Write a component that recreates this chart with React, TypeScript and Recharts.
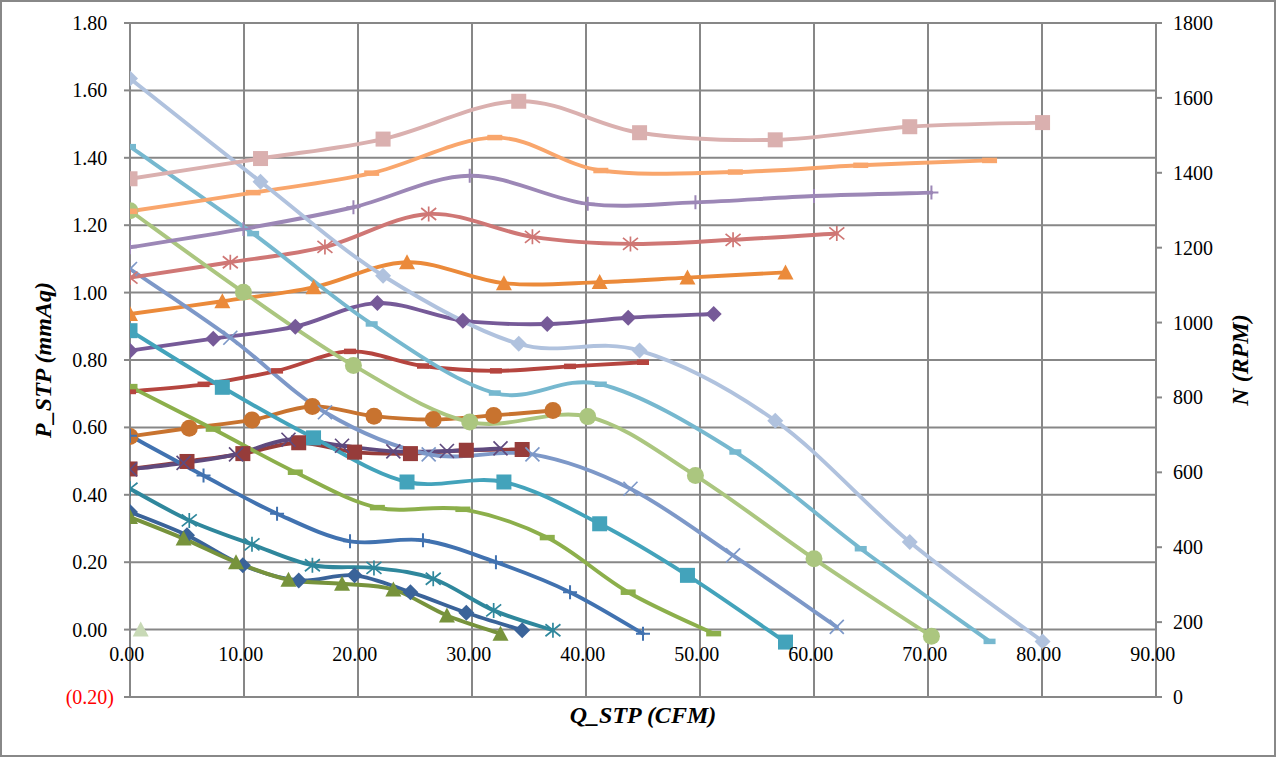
import React from 'react';
import { LineChart, Line, XAxis, YAxis, CartesianGrid } from 'recharts';

// ---------- axis ticks ----------
const qTicks = [0, 10, 20, 30, 40, 50, 60, 70, 80, 90];
const pTicks = [-0.2, 0, 0.2, 0.4, 0.6, 0.8, 1.0, 1.2, 1.4, 1.6, 1.8];
const nTicks = [0, 200, 400, 600, 800, 1000, 1200, 1400, 1600, 1800];

// ---------- data: Q_STP (CFM), P_STP (mmAq), N (RPM) ----------
const q1 = [0, 5.0, 9.9, 14.8, 19.7, 24.6, 29.5, 34.4];
const p1 = [0.349, 0.28, 0.191, 0.146, 0.161, 0.111, 0.05, -0.002];
const n1 = [609, 629, 650, 679, 654, 650, 659, 661];

const q2 = [0, 4.7, 9.3, 13.9, 18.6, 23.1, 27.8, 32.5];
const p2 = [0.334, 0.27, 0.2, 0.148, 0.136, 0.119, 0.042, -0.012];
const n2 = [608, 625, 648, 687, 671, 656, 657, 664];

const q3 = [0, 5.2, 10.7, 16.0, 21.4, 26.6, 31.9, 37.1];
const p3 = [0.418, 0.324, 0.253, 0.191, 0.183, 0.151, 0.057, -0.002];
const n3 = [696, 718, 740, 776, 750, 741, 752, 765];

const q4 = [0, 6.45, 12.9, 19.3, 25.7, 32.1, 38.6, 45.0];
const p4 = [0.575, 0.457, 0.344, 0.262, 0.265, 0.2, 0.111, -0.012];
const n4 = [816, 835, 871, 923, 884, 871, 883, 894];

const q5 = [0, 7.3, 14.5, 21.7, 29.2, 36.6, 43.7, 51.2];
const p5 = [0.721, 0.595, 0.467, 0.362, 0.357, 0.273, 0.111, -0.012];
const n5 = [925, 957, 989, 1052, 1005, 996, 1013, 1023];

const q6 = [0, 8.1, 16.1, 24.3, 32.8, 41.2, 48.9, 57.5];
const p6 = [0.887, 0.719, 0.569, 0.438, 0.438, 0.314, 0.161, -0.037];
const n6 = [1023, 1057, 1094, 1161, 1105, 1108, 1120, 1134];

const q7 = [0, 8.8, 17.1, 26.2, 35.3, 43.9, 52.9, 62.0];
const p7 = [1.07, 0.866, 0.645, 0.52, 0.52, 0.418, 0.22, 0.008];
const n7 = [1120, 1161, 1202, 1290, 1229, 1210, 1221, 1238];

const q8 = [0, 9.95, 19.6, 29.8, 40.15, 49.6, 60.0, 70.3];
const p8 = [1.243, 1.001, 0.784, 0.616, 0.632, 0.457, 0.21, -0.02];
const n8 = [1201, 1250, 1308, 1392, 1317, 1321, 1338, 1347];

const q9 = [0, 10.8, 21.2, 32.0, 41.3, 53.1, 64.1, 75.4];
const p9 = [1.433, 1.175, 0.907, 0.702, 0.728, 0.527, 0.24, -0.035];
const n9 = [1297, 1347, 1399, 1494, 1406, 1402, 1420, 1433];

const q10 = [0, 11.45, 22.2, 34.1, 44.7, 56.6, 68.4, 80.05];
const p10 = [1.635, 1.329, 1.05, 0.848, 0.828, 0.62, 0.26, -0.035];
const n10 = [1384, 1438, 1490, 1591, 1507, 1488, 1523, 1534];

const q11 = [0.94];
const p11 = [0];

// ---------- series styling ----------
type Marker = 'diamond' | 'square' | 'triangle' | 'x' | 'star' | 'circle' | 'plus' | 'dash' | 'dash2';
interface SeriesDef { q: number[]; v: number[]; axis: 'left' | 'right'; color: string; marker: Marker; }

const series: SeriesDef[] = [
  { q: q1, v: p1, axis: 'left', color: '#3A6399', marker: 'diamond' },
  { q: q1, v: n1, axis: 'right', color: '#963C3A', marker: 'square' },
  { q: q2, v: p2, axis: 'left', color: '#77933C', marker: 'triangle' },
  { q: q2, v: n2, axis: 'right', color: '#5F4A7E', marker: 'x' },
  { q: q3, v: p3, axis: 'left', color: '#2F879C', marker: 'star' },
  { q: q3, v: n3, axis: 'right', color: '#C8732F', marker: 'circle' },
  { q: q4, v: p4, axis: 'left', color: '#4172B0', marker: 'plus' },
  { q: q4, v: n4, axis: 'right', color: '#B5453F', marker: 'dash' },
  { q: q5, v: p5, axis: 'left', color: '#8CAF4B', marker: 'dash2' },
  { q: q5, v: n5, axis: 'right', color: '#765A98', marker: 'diamond' },
  { q: q6, v: p6, axis: 'left', color: '#43A3BB', marker: 'square' },
  { q: q6, v: n6, axis: 'right', color: '#EB8A3A', marker: 'triangle' },
  { q: q7, v: p7, axis: 'left', color: '#7D98C8', marker: 'x' },
  { q: q7, v: n7, axis: 'right', color: '#CF7775', marker: 'star' },
  { q: q8, v: p8, axis: 'left', color: '#ABC67F', marker: 'circle' },
  { q: q8, v: n8, axis: 'right', color: '#9C87B6', marker: 'plus' },
  { q: q9, v: p9, axis: 'left', color: '#76B8CF', marker: 'dash' },
  { q: q9, v: n9, axis: 'right', color: '#F9A66C', marker: 'dash2' },
  { q: q10, v: p10, axis: 'left', color: '#B0C2DE', marker: 'diamond' },
  { q: q10, v: n10, axis: 'right', color: '#DAB0AF', marker: 'square' },
  { q: q11, v: p11, axis: 'left', color: '#C8D9B6', marker: 'triangle' },
];

const FONT = '"Liberation Serif", "Times New Roman", serif';
const GRID = '#878787';

// Excel-like smoothed line (Catmull-Rom Bezier)
const excelSmooth = (context: any) => {
  let pts: number[][] = [];
  return {
    areaStart() {},
    areaEnd() {},
    lineStart() { pts = []; },
    point(x: number, y: number) { pts.push([+x, +y]); },
    lineEnd() {
      const n = pts.length;
      if (n === 0) return;
      context.moveTo(pts[0][0], pts[0][1]);
      if (n === 1) return;
      const t = 1 / 6;
      for (let i = 0; i < n - 1; i++) {
        const a = pts[i - 1] || pts[i];
        const b = pts[i];
        const c = pts[i + 1];
        const d = pts[i + 2] || c;
        context.bezierCurveTo(
          b[0] + (c[0] - a[0]) * t, b[1] + (c[1] - a[1]) * t,
          c[0] - (d[0] - b[0]) * t, c[1] - (d[1] - b[1]) * t,
          c[0], c[1],
        );
      }
    },
  };
};

const drawMarker = (kind: Marker, color: string, cx: number, cy: number, key: string) => {
  switch (kind) {
    case 'diamond': {
      const r = 8;
      return <path key={key} d={`M${cx},${cy - r}L${cx + r},${cy}L${cx},${cy + r}L${cx - r},${cy}Z`} fill={color} />;
    }
    case 'square':
      return <rect key={key} x={cx - 7.5} y={cy - 7.5} width={15} height={15} fill={color} />;
    case 'triangle': {
      return <path key={key} d={`M${cx},${cy - 8}L${cx + 8},${cy + 7}L${cx - 8},${cy + 7}Z`} fill={color} />;
    }
    case 'circle':
      return <circle key={key} cx={cx} cy={cy} r={8.5} fill={color} />;
    case 'x': {
      const r = 7;
      return (
        <path key={key} d={`M${cx - r},${cy - r}L${cx + r},${cy + r}M${cx - r},${cy + r}L${cx + r},${cy - r}`}
          stroke={color} strokeWidth={1.7} fill="none" />
      );
    }
    case 'star': {
      const r = 7.5;
      return (
        <path key={key}
          d={`M${cx - r},${cy - r * 0.8}L${cx + r},${cy + r * 0.8}M${cx - r},${cy + r * 0.8}L${cx + r},${cy - r * 0.8}M${cx},${cy - r}L${cx},${cy + r}`}
          stroke={color} strokeWidth={1.7} fill="none" />
      );
    }
    case 'plus': {
      const r = 7;
      return (
        <path key={key} d={`M${cx - r},${cy}L${cx + r},${cy}M${cx},${cy - r}L${cx},${cy + r}`}
          stroke={color} strokeWidth={2} fill="none" />
      );
    }
    case 'dash':
      return <rect key={key} x={cx - 6} y={cy - 2.75} width={12} height={5.5} fill={color} />;
    case 'dash2':
    default:
      return <rect key={key} x={cx - 7.5} y={cy - 2.75} width={15} height={5.5} fill={color} />;
  }
};

const makeDot = (kind: Marker, color: string, sid: number) => (props: any) => {
  const { cx, cy, index } = props;
  const key = `m-${sid}-${index}`;
  if (cx == null || cy == null || isNaN(cx) || isNaN(cy)) return <g key={key} />;
  return drawMarker(kind, color, cx, cy, key);
};

const fmt2 = (v: number) => Math.abs(v).toFixed(2);

const LeftTick = (props: any) => {
  const { x, y, payload } = props;
  const v = payload.value as number;
  const neg = v < -1e-9;
  return (
    <text x={x} y={y} dy="0.35em" textAnchor="end" fontFamily={FONT} fontSize={20} fill={neg ? '#FF0000' : '#000000'}>
      {neg ? `(${fmt2(v)})` : fmt2(v)}
      {!neg && <tspan fill="none">)</tspan>}
    </text>
  );
};

const RightTick = (props: any) => {
  const { x, y, payload } = props;
  return (
    <text x={x} y={y} dy="0.35em" textAnchor="start" fontFamily={FONT} fontSize={20} fill="#000000">
      {String(payload.value)}
    </text>
  );
};

const BottomTick = (props: any) => {
  const { x, y, payload } = props;
  return (
    <text x={x} y={y - 36} textAnchor="middle" fontFamily={FONT} fontSize={20} fill="#000000">
      {fmt2(payload.value)}
      <tspan fill="none">)</tspan>
    </text>
  );
};

const titleStyle = { fontFamily: FONT, fontSize: 24, fontWeight: 'bold' as const, fontStyle: 'italic' as const };

const LeftTitle = (props: any) => {
  const vb = props.viewBox || { x: 0, y: 23, width: 130, height: 674 };
  const cx = vb.x + 51;
  const cy = vb.y + vb.height / 2;
  return (
    <text x={cx} y={cy} transform={`rotate(-90, ${cx}, ${cy})`} textAnchor="middle" fill="#000" {...titleStyle}>
      P_STP (mmAq)
    </text>
  );
};

const RightTitle = (props: any) => {
  const vb = props.viewBox || { x: 1156, y: 23, width: 121, height: 674 };
  const cx = vb.x + 92;
  const cy = vb.y + vb.height / 2;
  return (
    <text x={cx} y={cy} transform={`rotate(-90, ${cx}, ${cy})`} textAnchor="middle" fill="#000" {...titleStyle}>
      N (RPM)
    </text>
  );
};

const BottomTitle = (props: any) => {
  const vb = props.viewBox || { x: 130, y: 697, width: 1026, height: 60 };
  const cx = vb.x + vb.width / 2;
  const cy = vb.y + 26;
  return (
    <text x={cx} y={cy} textAnchor="middle" fill="#000" {...titleStyle}>
      Q_STP (CFM)
    </text>
  );
};

export default function App() {
  return (
    <div style={{ position: 'absolute', left: 0, top: 0, width: 1277, height: 757, background: '#fff' }}>
      <div style={{ position: 'absolute', left: 0, top: 0, width: 1276, height: 757, border: '2px solid #888888', boxSizing: 'border-box' }} />
      <LineChart width={1277} height={757} margin={{ top: 23, right: 0, bottom: 0, left: 0 }} style={{ fontFamily: FONT }}>
        <CartesianGrid yAxisId="left" stroke={GRID} strokeWidth={2} />
        <XAxis
          type="number"
          dataKey="q"
          domain={[0, 90]}
          ticks={qTicks}
          interval={0}
          allowDataOverflow
          height={60}
          axisLine={false}
          tickLine={false}
          tickSize={0}
          tickMargin={0}
          tick={<BottomTick />}
          label={{ content: <BottomTitle /> }}
        />
        <YAxis
          yAxisId="left"
          type="number"
          domain={[-0.2, 1.8]}
          ticks={pTicks}
          interval={0}
          allowDataOverflow
          width={130}
          axisLine={{ stroke: GRID, strokeWidth: 2 }}
          tickLine={{ stroke: GRID, strokeWidth: 2 }}
          tickSize={6}
          tickMargin={10}
          tick={<LeftTick />}
          label={{ content: <LeftTitle /> }}
        />
        <YAxis
          yAxisId="right"
          orientation="right"
          type="number"
          domain={[0, 1800]}
          ticks={nTicks}
          interval={0}
          allowDataOverflow
          width={121}
          axisLine={{ stroke: GRID, strokeWidth: 2 }}
          tickLine={{ stroke: GRID, strokeWidth: 2 }}
          tickSize={6}
          tickMargin={11}
          tick={<RightTick />}
          label={{ content: <RightTitle /> }}
        />
        {series.map((s, i) => (
          <Line
            key={`s-${i}`}
            data={s.q.map((q, j) => ({ q, v: s.v[j] }))}
            dataKey="v"
            yAxisId={s.axis}
            type={excelSmooth as any}
            stroke={s.color}
            strokeWidth={3.9}
            strokeLinecap="round"
            dot={makeDot(s.marker, s.color, i)}
            activeDot={false}
            legendType="none"
            isAnimationActive={false}
          />
        ))}
      </LineChart>
    </div>
  );
}
